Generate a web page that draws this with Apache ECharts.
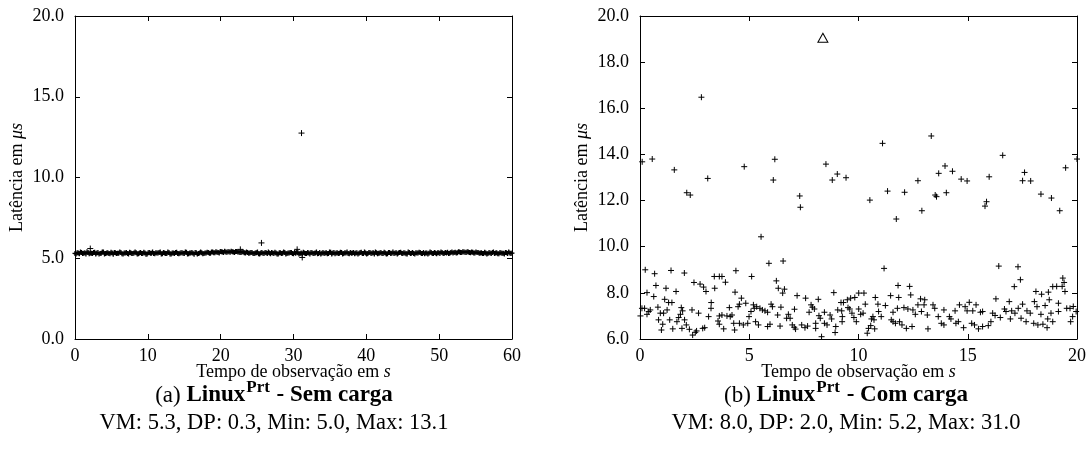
<!DOCTYPE html>
<html><head><meta charset="utf-8">
<script src="https://cdn.jsdelivr.net/npm/echarts@6/dist/echarts.min.js"></script>
<style>html,body{margin:0;padding:0;background:#fff}#c{width:1091px;height:463px}</style>
</head><body><div id="c"></div>
<script>
// ---------- DATA ----------
// (a) sem carga: two interleaved sample runs, every leftStep seconds (run 2 offset by half a step)
const leftStep = 0.3;
const leftBand = [
5.30,5.34,5.28,5.36,5.31,5.27,5.35,5.32,5.29,5.37,
5.33,5.26,5.31,5.38,5.30,5.34,5.28,5.32,5.36,5.29,
5.31,5.35,5.27,5.33,5.30,5.37,5.29,5.32,5.34,5.28,
5.36,5.30,5.33,5.27,5.35,5.31,5.29,5.34,5.32,5.38,
5.28,5.33,5.30,5.36,5.27,5.32,5.35,5.29,5.31,5.34,
5.30,5.37,5.28,5.33,5.31,5.35,5.26,5.32,5.34,5.30,
5.33,5.36,5.31,5.38,5.34,5.37,5.33,5.40,5.36,5.39,
5.41,5.37,5.40,5.36,5.42,5.38,5.35,5.39,5.33,5.36,
5.32,5.35,5.30,5.34,5.28,5.33,5.31,5.36,5.29,5.32,
5.35,5.30,5.33,5.27,5.34,5.31,5.36,5.29,5.32,5.35,
5.28,5.31,5.34,5.30,5.27,5.33,5.29,5.32,5.36,5.30,
5.33,5.28,5.35,5.31,5.29,5.34,5.30,5.37,5.32,5.28,
5.34,5.31,5.36,5.29,5.33,5.30,5.35,5.32,5.28,5.34,
5.31,5.37,5.30,5.33,5.29,5.35,5.32,5.27,5.34,5.31,
5.36,5.30,5.33,5.28,5.35,5.31,5.29,5.34,5.32,5.37,
5.30,5.33,5.27,5.35,5.31,5.29,5.34,5.32,5.36,5.30,
5.28,5.33,5.31,5.35,5.29,5.32,5.34,5.30,5.36,5.31,
5.33,5.29,5.35,5.32,5.37,5.34,5.38,5.35,5.39,5.36,
5.38,5.34,5.37,5.33,5.35,5.31,5.34,5.30,5.33,5.29,
5.32,5.35,5.30,5.34,5.28,5.33,5.31,5.36,5.30,5.33,5.32
];
const leftBand2 = [
5.27,5.33,5.38,5.29,5.34,5.40,5.28,5.31,5.36,5.26,
5.35,5.30,5.39,5.27,5.33,5.29,5.37,5.25,5.34,5.31,
5.38,5.28,5.32,5.36,5.26,5.34,5.30,5.39,5.27,5.33,
5.29,5.37,5.25,5.34,5.31,5.38,5.28,5.32,5.36,5.27,
5.35,5.29,5.38,5.26,5.33,5.30,5.37,5.28,5.34,5.31,
5.39,5.27,5.32,5.36,5.25,5.34,5.30,5.38,5.28,5.33,
5.37,5.31,5.39,5.34,5.41,5.35,5.42,5.38,5.43,5.37,
5.40,5.44,5.38,5.42,5.39,5.36,5.41,5.34,5.38,5.31,
5.36,5.29,5.33,5.38,5.27,5.35,5.30,5.34,5.39,5.28,
5.32,5.37,5.26,5.34,5.30,5.38,5.27,5.33,5.36,5.29,
5.35,5.38,5.26,5.33,5.37,5.29,5.35,5.27,5.34,5.31,
5.38,5.30,5.27,5.36,5.33,5.28,5.39,5.26,5.35,5.32,
5.29,5.37,5.27,5.34,5.38,5.28,5.31,5.36,5.33,5.26,
5.35,5.29,5.38,5.27,5.36,5.30,5.34,5.39,5.28,5.33,
5.30,5.37,5.26,5.35,5.29,5.38,5.33,5.27,5.36,5.31,
5.34,5.28,5.38,5.30,5.36,5.26,5.33,5.37,5.29,5.35,
5.33,5.27,5.38,5.30,5.36,5.28,5.34,5.39,5.29,5.35,
5.37,5.31,5.39,5.36,5.33,5.40,5.36,5.41,5.37,5.40,
5.35,5.39,5.32,5.38,5.36,5.33,5.29,5.37,5.27,5.35,
5.30,5.38,5.33,5.28,5.36,5.31,5.27,5.34,5.38,5.30
];
const leftOutT = [2.1, 22.7, 25.6, 30.5, 31.1, 31.2];
const leftOutV = [5.60, 5.55, 5.95, 5.55, 12.75, 5.05];

// (b) com carga
const rightT = [
0.10,0.56,1.57,2.14,2.30,2.81,3.10,4.77,5.54,5.90,6.10,6.17,6.55,7.31,7.34,8.51,8.80,9.03,9.43,10.52,
11.10,11.17,11.33,11.73,12.11,12.72,12.90,13.33,13.51,13.57,13.67,13.96,14.02,14.30,14.70,14.97,15.79,15.86,15.98,16.42,
16.60,17.30,17.51,17.60,17.88,18.35,18.83,19.21,19.48,20.00,
0.24,0.67,1.42,2.03,4.39,0.73,1.19,2.47,2.75,2.91,3.02,3.40,3.63,3.75,3.91,3.42,0.32,0.63,1.65,1.13,
1.31,1.46,3.26,0.09,0.02,0.21,0.40,0.47,0.32,0.82,0.93,1.08,1.24,1.89,1.95,1.85,1.77,2.38,2.68,3.25,
3.14,3.63,3.75,3.98,4.09,4.13,4.21,4.49,4.55,4.64,0.85,1.04,1.36,1.69,2.04,2.12,0.98,1.50,1.92,2.26,
2.87,2.96,3.57,3.63,4.29,3.83,4.33,4.55,2.41,2.53,2.59,
5.11,6.24,6.33,6.61,6.53,4.35,4.84,7.19,7.58,8.16,8.87,9.20,9.31,9.05,9.23,5.19,5.23,5.34,5.49,5.60,
5.72,5.84,5.08,4.99,6.00,6.06,6.45,6.30,7.07,6.79,6.87,6.71,7.83,7.89,7.98,7.74,8.19,8.44,8.70,8.77,
8.25,9.26,4.73,4.93,5.29,5.42,5.84,5.95,6.41,6.97,7.06,7.40,7.55,7.67,8.04,8.04,8.44,8.56,8.96,8.93,
8.31,7.12,
11.81,12.34,12.39,10.01,10.25,11.47,11.84,10.77,9.49,9.64,9.83,10.31,10.89,11.23,11.78,12.84,13.03,13.00,13.41,13.49,
13.91,9.52,9.60,10.01,10.21,9.70,9.79,10.10,10.66,11.04,10.92,11.58,12.08,12.26,12.49,12.72,12.60,12.88,13.15,13.65,
9.25,9.90,10.59,10.71,11.50,11.58,11.69,11.88,11.99,12.19,12.45,13.18,13.79,13.91,10.56,10.46,10.74,10.40,
17.41,17.13,18.12,18.38,18.69,18.89,16.29,16.90,17.51,18.05,18.17,18.54,18.73,15.07,14.88,14.62,15.38,14.42,14.97,15.23,
15.58,15.68,16.14,16.25,16.49,16.68,16.75,17.01,17.16,17.31,17.71,17.86,18.35,18.66,18.81,14.16,14.23,14.46,14.57,15.18,
15.31,15.49,15.68,15.94,16.06,14.81,16.95,17.44,17.67,18.02,18.21,18.44,18.63,18.89,
19.35,19.41,19.32,19.45,19.07,19.15,19.53,19.68,19.83,19.96,19.80,19.71,19.15
];
const rightV = [
13.68,13.80,13.33,12.34,12.24,16.48,12.96,13.47,10.43,9.28,12.89,13.79,9.38,12.20,11.71,13.58,12.89,13.15,12.99,12.02,
14.48,9.06,12.41,11.20,12.36,12.86,11.56,14.80,12.24,12.17,13.18,13.50,12.34,13.27,12.93,12.85,11.76,11.95,13.03,9.16,
13.96,9.13,12.86,13.22,12.85,12.28,12.11,11.56,13.42,13.80,
9.00,8.83,8.97,8.86,8.96,8.32,8.20,8.45,8.38,8.25,8.06,8.71,8.71,8.71,8.46,8.20,8.01,7.84,8.06,7.72,
7.58,7.58,7.58,7.33,7.00,7.33,7.19,7.26,7.07,7.38,7.12,7.12,7.26,7.36,7.22,7.07,6.93,7.26,7.12,7.33,
6.97,7.00,7.04,7.00,7.36,6.97,7.04,7.40,7.51,7.77,6.83,6.64,6.83,6.75,6.83,6.61,6.39,6.44,6.46,6.42,
6.46,6.49,6.78,6.64,6.68,6.44,6.39,6.68,6.17,6.29,6.35,
8.71,8.52,8.20,8.16,7.99,8.03,7.55,7.88,7.77,7.72,8.01,7.58,7.58,7.26,7.22,7.48,7.33,7.40,7.33,7.26,
7.22,7.16,7.19,6.97,7.51,7.40,7.38,7.04,7.29,7.07,6.90,6.90,7.48,7.38,7.30,7.16,7.01,7.16,7.04,6.87,
6.90,6.97,6.61,6.68,6.75,6.61,6.54,6.64,6.56,6.61,6.51,6.61,6.49,6.56,6.46,6.68,6.68,6.61,6.54,6.28,
6.10,6.43,
8.32,8.28,7.91,7.99,7.99,7.88,7.80,7.80,7.70,7.77,7.80,7.51,7.51,7.45,7.33,7.74,7.70,7.48,7.48,7.33,
7.26,7.36,7.30,7.30,7.12,7.12,6.93,7.07,6.97,6.97,7.19,7.16,7.36,7.30,7.26,7.48,7.07,7.19,7.04,6.97,
6.75,6.75,6.87,6.83,6.83,6.75,6.68,6.75,6.61,6.46,6.54,6.44,6.68,6.61,6.58,6.46,6.44,6.25,
8.57,8.27,8.06,7.94,8.03,8.27,7.74,7.62,7.51,7.62,7.40,7.45,7.70,7.59,7.40,7.48,7.48,7.22,7.22,7.22,
7.16,7.19,7.12,7.02,6.93,7.30,7.19,7.22,7.12,7.33,7.22,7.12,7.07,6.87,7.12,6.97,6.87,6.68,6.75,6.68,
6.61,6.44,6.54,6.58,6.75,6.49,6.87,6.90,6.75,6.68,6.61,6.64,6.49,6.75,
8.64,8.45,8.28,8.06,8.28,7.55,7.33,7.33,7.41,7.19,6.97,6.75,7.19
];
const rightMaxT = [8.37];
const rightMaxV = [19.06];

const leftXTicks = {min: 0, max: 60, interval: 10};
const leftYTicks = {min: 0, max: 20, interval: 5};
const rightXTicks = {min: 0, max: 20, interval: 5};
const rightYTicks = {min: 6, max: 20, interval: 2};

// ---------- CHART ----------
const F = 'Liberation Serif';
const chart = echarts.init(document.getElementById('c'), null, {renderer: 'canvas'});
const PLUS = 'path://M0,5L10,5M5,0L5,10';

function xAx(grid, t, pos) {
  return {
    gridIndex: grid, type: 'value', min: t.min, max: t.max, interval: t.interval, position: pos,
    axisLine: {show: true, onZero: false, lineStyle: {color: '#000', width: 1}},
    axisTick: {show: true, inside: true, length: 5, lineStyle: {color: '#000', width: 1}},
    axisLabel: {show: pos === 'bottom', color: '#000', fontFamily: F, fontSize: 18, margin: 8,
      showMinLabel: true, showMaxLabel: true},
    splitLine: {show: false}
  };
}
function yAx(grid, t, pos) {
  return {
    gridIndex: grid, type: 'value', min: t.min, max: t.max, interval: t.interval, position: pos,
    axisLine: {show: true, onZero: false, lineStyle: {color: '#000', width: 1}},
    axisTick: {show: true, inside: true, length: 5, lineStyle: {color: '#000', width: 1}},
    axisLabel: {show: pos === 'left', color: '#000', fontFamily: F, fontSize: 18, margin: 11,
      formatter: v => v.toFixed(1), showMinLabel: true, showMaxLabel: true},
    splitLine: {show: false}
  };
}
const plusStyle = {color: 'none', borderColor: '#000', borderWidth: 1, opacity: 1};
const bandStyle = {color: 'none', borderColor: '#000', borderWidth: 1.3, opacity: 1};

function txt(x, y, text, size, rich, extra) {
  return Object.assign({
    type: 'text', x: x, y: y, silent: true,
    style: {text: text, fontFamily: F, fontSize: size, fill: '#000', align: 'center', verticalAlign: 'middle', rich: rich || {}}
  }, extra || {});
}
const richItal = s => ({i: {fontFamily: F, fontSize: s, fontStyle: 'italic', fill: '#000'}});
const capRich = {
  n: {fontFamily: F, fontSize: 23, fill: '#000', verticalAlign: 'bottom'},
  b: {fontFamily: F, fontSize: 23, fontWeight: 'bold', fill: '#000', verticalAlign: 'bottom'},
  s: {fontFamily: F, fontSize: 17, fontWeight: 'bold', fill: '#000', verticalAlign: 'bottom', padding: [0, 1, 11, 1]}
};

chart.setOption({
  animation: false,
  backgroundColor: '#fff',
  grid: [
    {left: 75, top: 16, width: 437, height: 323},
    {left: 640, top: 16, width: 437, height: 323}
  ],
  xAxis: [xAx(0, leftXTicks, 'bottom'), xAx(0, leftXTicks, 'top'), xAx(1, rightXTicks, 'bottom'), xAx(1, rightXTicks, 'top')],
  yAxis: [yAx(0, leftYTicks, 'left'), yAx(0, leftYTicks, 'right'), yAx(1, rightYTicks, 'left'), yAx(1, rightYTicks, 'right')],
  series: [
    {type: 'scatter', xAxisIndex: 0, yAxisIndex: 0, symbol: PLUS, symbolSize: 5, itemStyle: bandStyle,
      data: leftBand.map((v, i) => [i * leftStep, v])},
    {type: 'scatter', xAxisIndex: 0, yAxisIndex: 0, symbol: PLUS, symbolSize: 5, itemStyle: bandStyle,
      data: leftBand2.map((v, i) => [(i + 0.5) * leftStep, v])},
    {type: 'scatter', xAxisIndex: 0, yAxisIndex: 0, symbol: PLUS, symbolSize: 6, itemStyle: plusStyle,
      data: leftOutT.map((t, i) => [t, leftOutV[i]])},
    {type: 'scatter', xAxisIndex: 2, yAxisIndex: 2, symbol: PLUS, symbolSize: 6, itemStyle: plusStyle,
      data: rightT.map((t, i) => [t, rightV[i]])},
    {type: 'scatter', xAxisIndex: 2, yAxisIndex: 2, symbol: 'triangle', symbolSize: [10, 9],
      itemStyle: {color: '#fff', borderColor: '#000', borderWidth: 1, opacity: 1},
      data: rightMaxT.map((t, i) => [t, rightMaxV[i]])}
  ],
  graphic: [
    txt(17, 177.5, 'Latência em {i|μs}', 18, richItal(18), {rotation: Math.PI / 2}),
    txt(582, 177.5, 'Latência em {i|μs}', 18, richItal(18), {rotation: Math.PI / 2}),
    txt(293.5, 372, 'Tempo de observação em {i|s}', 18, richItal(18)),
    txt(858.5, 372, 'Tempo de observação em {i|s}', 18, richItal(18)),
    txt(274, 393, '{n|(a) }{b|Linux}{s|Prt}{b| - Sem carga}', 23, capRich),
    txt(846, 393, '{n|(b) }{b|Linux}{s|Prt}{b| - Com carga}', 23, capRich),
    txt(274, 423, 'VM: 5.3, DP: 0.3, Min: 5.0, Max: 13.1', 22.5),
    txt(846, 423, 'VM: 8.0, DP: 2.0, Min: 5.2, Max: 31.0', 22.5)
  ]
});
</script></body></html>
